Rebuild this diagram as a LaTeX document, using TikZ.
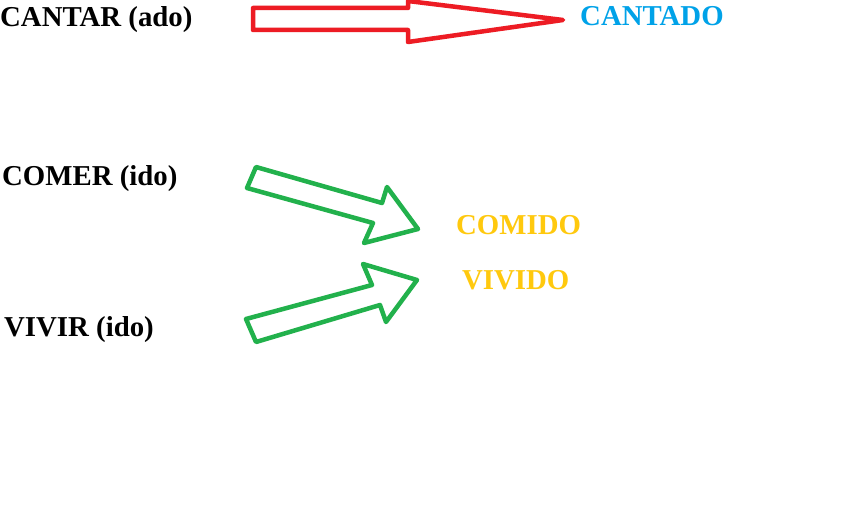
\documentclass[tikz,border=0pt]{standalone}
\usepackage{fontspec}
\setmainfont{Liberation Serif}
\definecolor{rojo}{RGB}{237,28,36}
\definecolor{verde}{RGB}{34,177,76}
\definecolor{celeste}{RGB}{0,162,232}
\definecolor{amarillo}{RGB}{255,201,14}
\tikzset{
  verbo/.style={anchor=base west, inner sep=0pt, font=\fontsize{28.8}{29}\selectfont\bfseries},
  flecha/.style={line width=4.5pt, line join=round},
}
\begin{document}
\begin{tikzpicture}[x=1pt, y=-1pt]
\useasboundingbox[fill=white] (0,0) rectangle (854,513);
% Verbos
\node[verbo] (cantar) at (0,27) {CANTAR (ado)};
\node[verbo] (comer) at (2,186) {COMER (ido)};
\node[verbo] (vivir) at (4,336) {VIVIR (ido)};
% Participios
\node[verbo, celeste] (cantado) at (580,26) {CANTADO};
\node[verbo, amarillo] (comido) at (456,235) {COMIDO};
\node[verbo, amarillo] (vivido) at (462,289) {VIVIDO};
% Flechas
\draw[flecha, rojo] (253,8) -- (408,8) -- (408,1) -- (563,20) -- (408,42) -- (408,30) -- (253,30) -- cycle;
\draw[flecha, verde] (256,167) -- (382,203) -- (387,187) -- (418,229) -- (364,243) -- (373,223) -- (247,188) -- cycle;
\draw[flecha, verde] (246,319) -- (372,285) -- (363,264) -- (417,280) -- (386,322) -- (380,305) -- (256,342) -- cycle;
\end{tikzpicture}
\end{document}
